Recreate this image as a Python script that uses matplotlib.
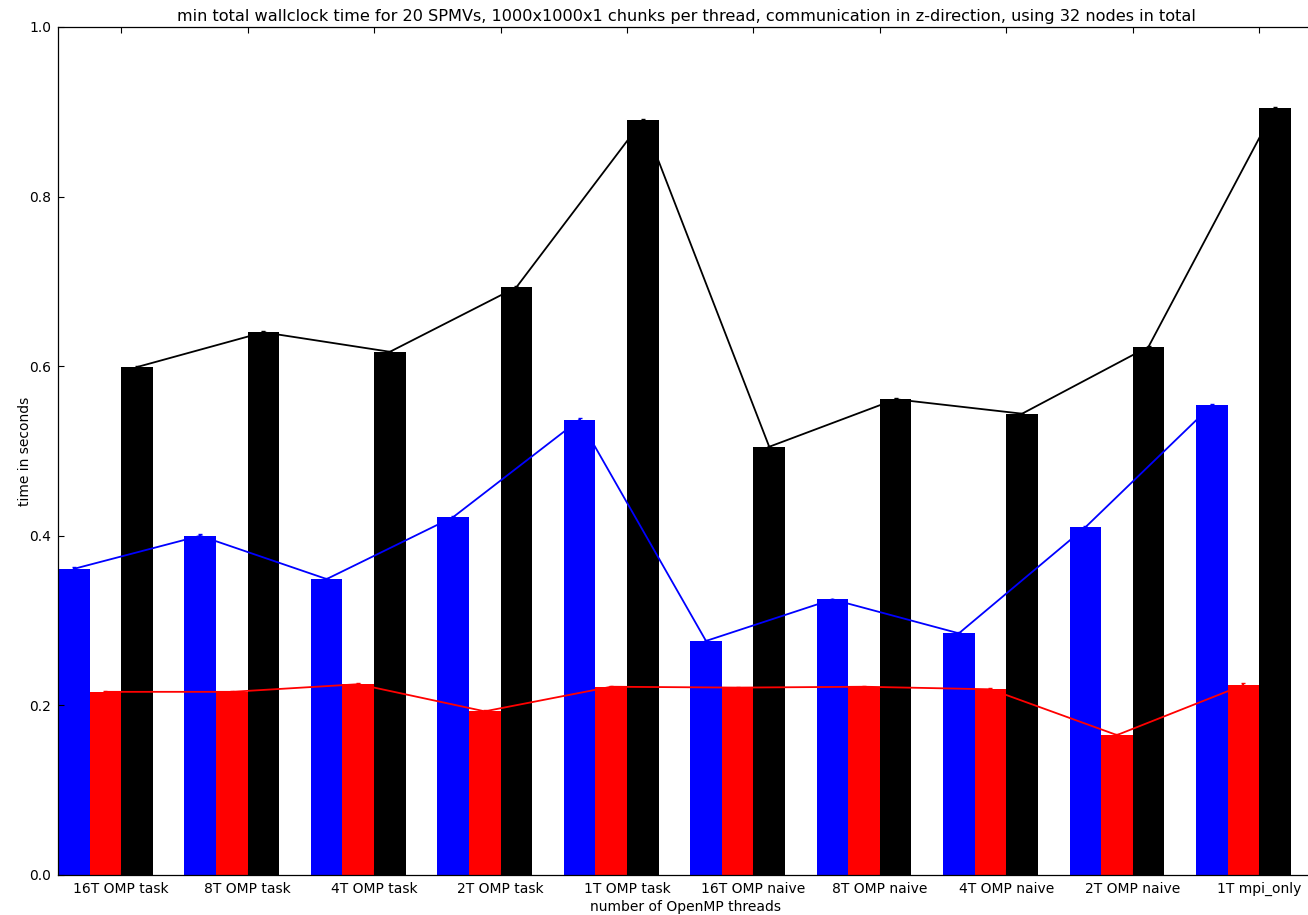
import numpy as np
import matplotlib
matplotlib.use("Agg")
import matplotlib.pyplot as plt

categories = ["16T OMP task", "8T OMP task", "4T OMP task", "2T OMP task", "1T OMP task",
              "16T OMP naive", "8T OMP naive", "4T OMP naive", "2T OMP naive", "1T mpi_only"]

blue_vals = [0.361, 0.400, 0.349, 0.422, 0.537, 0.276, 0.325, 0.285, 0.410, 0.554]
red_vals = [0.216, 0.216, 0.225, 0.193, 0.222, 0.221, 0.222, 0.219, 0.165, 0.224]
black_vals = [0.599, 0.640, 0.617, 0.693, 0.890, 0.505, 0.561, 0.544, 0.623, 0.904]

blue_err = [0.002, 0.002, 0.001, 0.001, 0.002, 0.001, 0.001, 0.001, 0.001, 0.002]
red_err = [0.001, 0.001, 0.002, 0.001, 0.001, 0.001, 0.001, 0.001, 0.001, 0.002]
black_err = [0.001, 0.002, 0.001, 0.001, 0.002, 0.001, 0.002, 0.001, 0.001, 0.002]

title = ("min total wallclock time for 20 SPMVs, 1000x1000x1 chunks per thread, "
         "communication in z-direction, using 32 nodes in total")

W, H, DPI = 1308, 915, 100
fig = plt.figure(figsize=(W / DPI, H / DPI), dpi=DPI, facecolor="white")
left, right, top, bottom = 58, 1314, 27, 875
ax = fig.add_axes([left / W, (H - bottom) / H, (right - left) / W, (bottom - top) / H])

width = 0.25
x = np.arange(len(categories))
series = [(blue_vals, blue_err, "blue"), (red_vals, red_err, "red"), (black_vals, black_err, "black")]
for k, (vals, errs, col) in enumerate(series):
    ax.bar(x + k * width, vals, width=width, align="edge", color=col, linewidth=0, zorder=1)
for k, (vals, errs, col) in enumerate(series):
    ax.errorbar(x + k * width + width / 2, vals, yerr=errs, color=col, lw=1.3,
                capsize=1.5, elinewidth=1.3, zorder=2)

ax.set_xlim(0, (right - left) / 126.44)
ax.set_ylim(0, 1.0)
ax.set_xticks(x + 0.5)
ax.set_xticklabels(categories, fontsize=10)
ax.set_yticks(np.arange(0, 1.01, 0.2))
ax.set_yticklabels([f"{v:.1f}" for v in np.arange(0, 1.01, 0.2)], fontsize=10)
ax.tick_params(direction="in", top=True, right=False, length=4, width=0.8, pad=5)
ax.set_xlabel("number of OpenMP threads", fontsize=10, labelpad=3)
ax.set_ylabel("time in seconds", fontsize=10, labelpad=0)
ax.yaxis.set_label_coords(-26 / (right - left), 0.5)
ax.set_title(title, fontsize=11.6, pad=4)
for s in ax.spines.values():
    s.set_linewidth(0.9)

fig.savefig("out.png", dpi=DPI, facecolor="white")
